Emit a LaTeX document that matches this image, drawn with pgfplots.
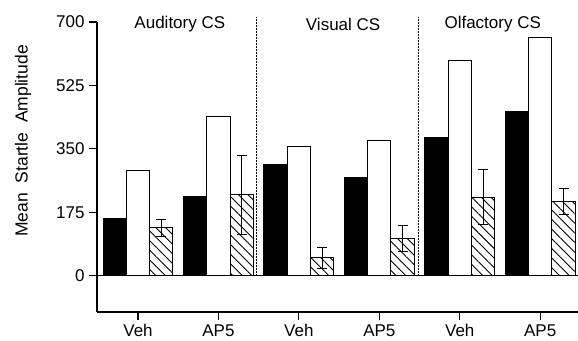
\documentclass[border=0pt]{standalone}
\usepackage{fontspec}
\setmainfont{Liberation Sans}
\usepackage{pgfplots}
\pgfplotsset{compat=1.18}
\usetikzlibrary{patterns.meta,calc}
\newcommand\bigf{\fontsize{17}{20}\selectfont}
\newcommand\labf{\fontsize{17.5}{20}\selectfont}
\begin{document}
\begin{tikzpicture}[font=\bigf]
\begin{axis}[
  width=481pt, height=290pt, scale only axis,
  xmin=-0.51, xmax=5.47, ymin=-100, ymax=700,
  axis x line*=bottom, axis y line*=left,
  ytick={0,175,350,525,700},
  xtick={0,...,5}, xticklabels={Veh,AP5,Veh,AP5,Veh,AP5},
  tick align=outside, major tick length=8pt,
  tick style={black, line width=1.2pt},
  axis line style={line width=1.4pt},
  ylabel={Mean\ \ Startle\ \ Amplitude},
  ylabel style={at={(axis description cs:-0.1538,0.59)}, anchor=center, font=\labf},
  ybar=0pt, bar width=23.3pt,
  /pgf/number format/assume math mode=true,
  ticklabel style={font=\bigf},
  xticklabel style={yshift=-1pt},
  yticklabel style={xshift=-1pt},
  clip=false,
]
\addplot[fill=black, draw=black, line width=1pt] coordinates {(0,158) (1,218) (2,308) (3,271) (4,380) (5,453)};
\addplot[fill=white, draw=black, line width=1pt] coordinates {(0,289) (1,439) (2,356) (3,372) (4,595) (5,658)};
\addplot[draw=black, line width=1pt, pattern={Lines[angle=-45,distance=6.8pt,line width=0.9pt]}, pattern color=black,
  error bars/.cd, y dir=both, y explicit,
  error bar style={line width=1pt, black},
  error mark options={rotate=90, mark size=5pt, line width=1pt, black}]
  coordinates {(0,132) +- (0,23) (1,223) +- (0,108) (2,49) +- (0,29) (3,103) +- (0,36) (4,217) +- (0,77) (5,205) +- (0,35)};
\draw[line width=1.2pt] (axis cs:-0.51,0) -- (axis cs:5.47,0);
\draw[densely dotted, line width=0.5pt] (axis cs:1.47,0) -- (axis cs:1.47,715);
\draw[densely dotted, line width=0.5pt] (axis cs:3.48,0) -- (axis cs:3.48,715);
\node[font=\bigf] at (axis cs:0.52,694) {Auditory CS};
\node[font=\bigf] at (axis cs:2.55,694) {Visual CS};
\node[font=\bigf] at (axis cs:4.41,694) {Olfactory CS};
\coordinate (bl) at (rel axis cs:0,0);
\coordinate (tr) at (rel axis cs:1,1);
\end{axis}
\pgfresetboundingbox
\path ($(bl)+(-97pt,-29pt)$) rectangle ($(tr)+(0,22pt)$);
\end{tikzpicture}
\end{document}
